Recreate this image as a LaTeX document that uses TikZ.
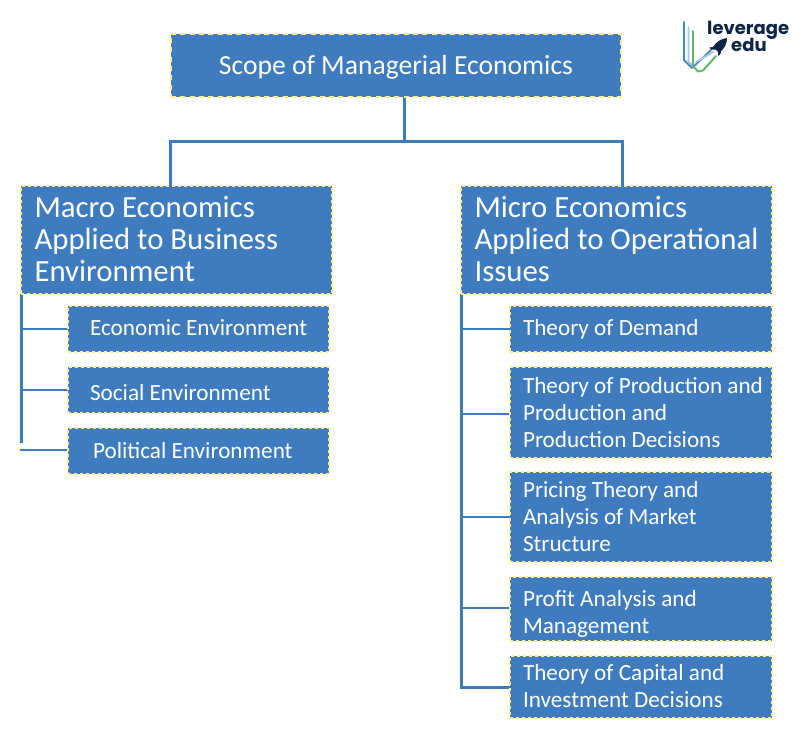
\documentclass[tikz,border=0pt]{standalone}
\usepackage{fontspec}
\setmainfont{Carlito}
\newfontfamily\logofont{Poppins}
\newcommand{\tallstart}[1]{\rule{0pt}{#1pt}}
\newcommand{\deepend}[1]{\rule[-#1pt]{0pt}{0pt}}
\definecolor{boxblue}{HTML}{3E7CBF}
\definecolor{edge}{HTML}{FFF08E}
\definecolor{linkblue}{HTML}{3D7DBF}
\definecolor{navy}{HTML}{0E2347}
\definecolor{logoblue}{HTML}{4A86C8}
\definecolor{logolight}{HTML}{A9C4E4}
\definecolor{logogreen}{HTML}{5CB96B}
\tikzset{
 x=1pt,y=-1pt,
 basebox/.style={fill=boxblue,draw=edge,text=white,inner sep=0pt,align=flush left,dash pattern=on 3pt off 3pt},
 topbox/.style={basebox,line width=2.8pt,dash pattern=on 5pt off 4.3pt,minimum width=450pt,minimum height=63pt,align=center,font=\fontsize{27.6}{32}\selectfont},
 headbox/.style={basebox,line width=1.6pt,minimum width=311pt,minimum height=108pt,text width=284pt,font=\fontsize{30.8}{32}\selectfont},
 subbox/.style={basebox,line width=1.4pt,text width=236pt,font=\fontsize{23.2}{27}\selectfont},
 leftsub/.style={basebox,line width=1.4pt,minimum width=261pt,minimum height=46pt,text width=217pt,font=\fontsize{23.2}{27}\selectfont},
 link/.style={draw=linkblue,line width=3pt},
 thinlink/.style={draw=linkblue,line width=2.6pt},
 logotext/.style={text=navy,inner sep=0pt,font=\logofont\bfseries\fontsize{18}{18}\selectfont,anchor=base west},
}
\begin{document}
\begin{tikzpicture}
\useasboundingbox (0,0) rectangle (800,736);
\fill[white] (0,0) rectangle (800,736);
% connector joints
\coordinate (trunk) at (404,141);
\coordinate (jl) at (170.5,141);
\coordinate (jr) at (622,141);
\coordinate (lb1) at (21.5,329);
\coordinate (lb2) at (21.5,390);
\coordinate (lbend) at (21.5,443);
\coordinate (lb3) at (20,450);
\coordinate (rb1) at (461,329);
\coordinate (rb2) at (461,414);
\coordinate (rb3) at (461,517);
\coordinate (rb4) at (461,608);
\coordinate (rb5) at (461,687);
% connectors
\draw[link] (404,97) -- (trunk);
\draw[link] (170.5,186) -- (jl) -- (jr) -- (622,186);
\draw[link] (21.5,294) -- (lbend);
\draw[thinlink] (lb1) -- (68,329);
\draw[thinlink] (lb2) -- (68,390);
\draw[thinlink] (lb3) -- (68,450);
\draw[link] (461,294) -- (rb5) -- (510,687);
\draw[thinlink] (rb1) -- (510,329);
\draw[thinlink] (rb2) -- (510,414);
\draw[thinlink] (rb3) -- (510,517);
\draw[thinlink] (rb4) -- (510,608);
% boxes
\node[topbox] (top) at (396,65.5) {\tallstart{22}Scope of Managerial Economics};
\node[headbox] (macro) at (176.5,240) {\mbox{Macro Economics}\\\mbox{Applied to Business}\\\mbox{Environment}\deepend{2}};
\node[headbox] (micro) at (616.5,240) {\mbox{Micro Economics}\\\mbox{Applied to Operational}\\\mbox{Issues}\deepend{2}};
\node[leftsub] (l1) at (198.5,329) {\mbox{Economic Environment}\deepend{2}};
\node[leftsub] (l2) at (198.5,390) {\tallstart{22}\mbox{Social Environment}};
\node[leftsub] (l3) at (198.5,451) {\hspace*{3pt}\mbox{Political Environment}\deepend{2}};
\node[subbox,minimum width=262pt,minimum height=46pt] (r1) at (641,329) {\mbox{Theory of Demand}};
\node[subbox,minimum width=262pt,minimum height=91pt] (r2) at (641,412.5) {\mbox{Theory of Production and}\\\mbox{Production and}\\\mbox{Production Decisions}};
\node[subbox,minimum width=262pt,minimum height=90pt] (r3) at (641,517) {\mbox{Pricing Theory and}\\\mbox{Analysis of Market}\\\mbox{Structure}};
\node[subbox,minimum width=262pt,minimum height=64pt] (r4) at (641,609) {\tallstart{25}\mbox{Profit Analysis and}\\\mbox{Management}};
\node[subbox,minimum width=262pt,minimum height=62pt] (r5) at (641,687) {\mbox{Theory of Capital and}\\\mbox{Investment Decisions}\deepend{2}};
% logo
\begin{scope}[line width=1.9pt,line join=round,line cap=round]
\draw[logoblue] (684,22) -- (684,60) -- (692,68) -- (711,50);
\draw[logolight] (688.5,27) -- (688.5,62) -- (693,66);
\draw[logolight] (696,62) -- (713,52);
\draw[logogreen] (693,31) -- (693,66) -- (698,71.5) -- (703,70.5) -- (716,56);
\end{scope}
\fill[navy] (727,38) .. controls (721,38.5) and (716,42) .. (713,47) -- (709.5,47.5) -- (711,49.5) -- (715.5,49.5) -- (718,52) -- (718,56) -- (720.5,54) -- (721,51) .. controls (725,48) and (727,43) .. (727,38) -- cycle;
\node[logotext] (lv) at (707,34) {leverage};
\node[logotext] (ed) at (731,51) {edu};
\end{tikzpicture}
\end{document}
